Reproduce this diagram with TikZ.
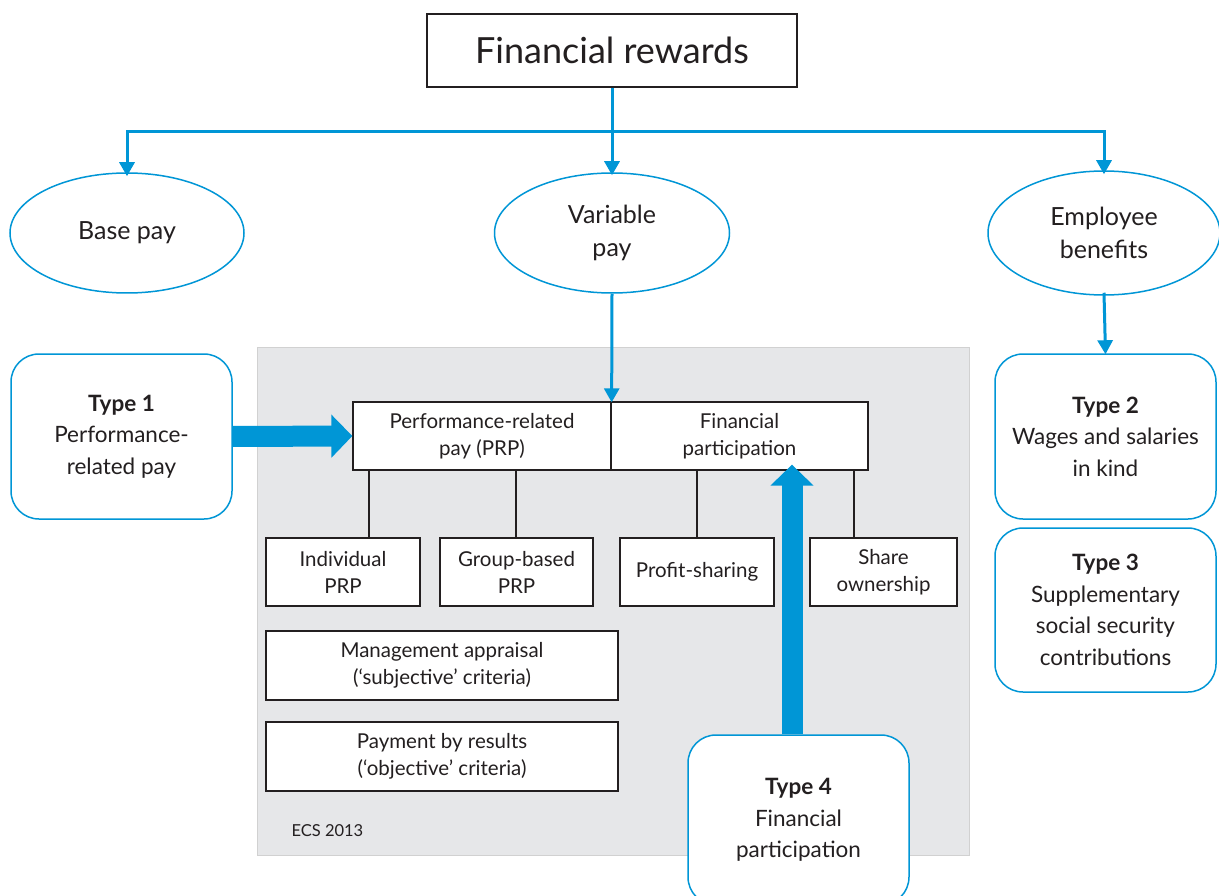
\documentclass[tikz,border=0pt]{standalone}
\usepackage{fontspec}
\setmainfont{Lato}
\usetikzlibrary{arrows.meta,shapes}
\definecolor{rwblue}{RGB}{0,150,214}
\definecolor{rwgray}{RGB}{230,231,233}
\definecolor{rwtext}{RGB}{35,31,32}
\tikzstyle{plainbox}=[draw=rwtext,line width=1.3pt,fill=white,text=rwtext,align=center,inner sep=0pt,font=\fontsize{20.5}{27}\selectfont]
\tikzstyle{typebox}=[draw=rwblue,line width=1.5pt,fill=white,rounded corners=28pt,text=rwtext,align=center,minimum width=221pt,inner sep=0pt,font=\fontsize{22.5}{31.5}\selectfont]
\tikzstyle{oval}=[ellipse,draw=rwblue,line width=1.5pt,fill=white,text=rwtext,align=center,inner sep=0pt,font=\fontsize{25}{33}\selectfont]
\tikzstyle{thin} = [draw=rwblue,line width=3pt,-{Triangle[length=14pt,width=15pt]}]
\tikzstyle{fat} = [draw=rwblue,line width=21pt,-{Triangle[length=21pt,width=42pt]}]
\tikzstyle{stem} = [draw=rwtext,line width=2.4pt]
\begin{document}
\begin{tikzpicture}[x=1pt,y=-1pt]
    \clip (0,0) rectangle (1219,896);
    \fill[white] (0,0) rectangle (1219,896);
    % grey panel behind the variable pay breakdown
    \draw[fill=rwgray,draw=black!18,line width=1pt] (257,347) rectangle (969,855);
    \node[text=rwtext,font=\fontsize{16.5}{18}\selectfont,anchor=west] (src) at (288,831) {ECS 2013};

    % top box and the three kinds of pay
    \node[plainbox,minimum width=370pt,minimum height=73pt,font=\fontsize{36}{40}\selectfont] (top) at (612,50.5) {Financial rewards};
    \node[oval,minimum width=234pt,minimum height=120pt] (base) at (127,233) {Base pay};
    \node[oval,minimum width=235pt,minimum height=120pt] (var) at (612,233) {Variable\\pay};
    \node[oval,minimum width=232pt,minimum height=124pt] (emp) at (1104,233) {Employee\\benefits};

    % the two branches of variable pay
    \node[plainbox,minimum width=258pt,minimum height=68pt] (prp) at (482,436) {Performance-related\\pay (PRP)};
    \node[plainbox,minimum width=257pt,minimum height=68pt] (fp) at (739.5,436) {Financial\\participation};

    % leaves
    \foreach \pos/\w/\name/\txt in {{(343,572)/154/indiv/Individual\\PRP}, {(516.5,572)/153/group/Group-based\\PRP}, {(697,572)/154/profit/Profit-sharing}, {(883.5,572)/147/share/Share\\ownership}}
        \node[plainbox,minimum width=\w pt,minimum height=68pt] (\name) at \pos {\txt};
    \node[plainbox,minimum width=352pt,minimum height=69pt] (mgmt) at (442,665.5) {Management appraisal\\(‘subjective’ criteria)};
    \node[plainbox,minimum width=352pt,minimum height=69pt] (pbr) at (442,756.5) {Payment by results\\(‘objective’ criteria)};

    % the four types
    \node[typebox,minimum height=165pt] (type1) at (121.5,436.5) {\textbf{Type 1}\\Performance-\\related pay};
    \node[typebox,minimum height=165pt] (type2) at (1105.5,436.5) {\textbf{Type 2}\\Wages and salaries\\in kind};
    \node[typebox,minimum height=164pt] (type3) at (1105.5,610) {\textbf{Type 3}\\Supplementary\\social security\\contributions};
    \node[typebox,minimum height=170pt] (type4) at (798.5,820) {\textbf{Type 4}\\Financial\\participation};

    % connectors
    \coordinate (split) at (612,132);
    \path[draw=rwblue,line width=3pt] (top.south) -- (split);
    \path[thin] (split) -| ([yshift=-4pt]base.north);
    \path[thin] (split) -- ([yshift=-3pt]var.north);
    \path[thin] (split) -| ([yshift=-4pt]emp.north);
    \path[thin] (var.south) -- ([yshift=-1pt]prp.north east);
    \path[thin] ([yshift=3pt]emp.south) -- ([yshift=-1pt]type2.north);

    \foreach \source/\xpos/\dest in {prp/369/indiv, prp/516/group, fp/697/profit, fp/854/share}
        \path[stem] (\source.south -| \xpos,0) -- (\dest.north -| \xpos,0);

    \path[fat] (type1.east) -- (prp.west);
    \path[fat] (type4.north -| 792,0) -- ([yshift=6pt]fp.south -| 792,0);
\end{tikzpicture}
\end{document}
